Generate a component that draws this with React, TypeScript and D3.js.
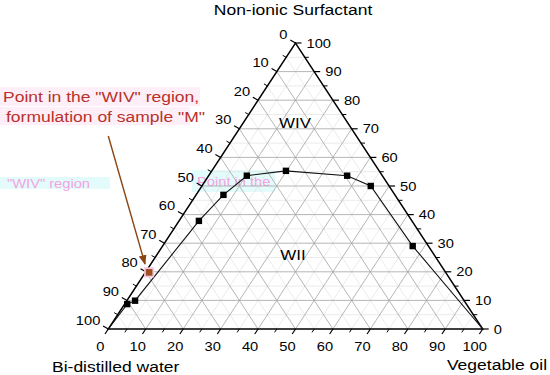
import React from "react";
import * as d3 from "d3";

// Phase boundary points (Vegetable oil %, Non-ionic surfactant %, Bi-distilled water %)
const oil = [0, 0.7, 2.2, 5.3, 7.3, 10.2, 19.8, 37.0, 45.1, 66.8, 100];
const surfactant = [0, 8.7, 9.9, 37.8, 46.9, 53.6, 55.3, 53.6, 50.0, 29.0, 0];
const water = [100, 90.6, 87.9, 56.9, 45.8, 36.2, 24.9, 9.4, 4.9, 4.2, 0];
// which of the boundary points carry a marker
const marked = [false, true, true, true, true, true, true, true, true, true, false];

// Sample "M"
const sampleM = { oil: 1.0, surfactant: 19.8, water: 79.2 };

const ticks = [0, 10, 20, 30, 40, 50, 60, 70, 80, 90, 100];
const minorTicks = [5, 15, 25, 35, 45, 55, 65, 75, 85, 95];
const gridMajor = [10, 20, 30, 40, 50, 60, 70, 80, 90];
const gridMinor = [5, 15, 25, 35, 45, 55, 65, 75, 85, 95];

const FONT = "Liberation Sans, Arial, Helvetica, sans-serif";
const SX = 1.13;

const xS = d3.scaleLinear().domain([0, 100]).range([108.3, 482.7]);
const yS = d3.scaleLinear().domain([0, 100]).range([329, 43]);

// oil along bottom, surfactant vertical
const P = (o: number, s: number): [number, number] => [xS(o + s / 2), yS(s)];

function T(props: any) {
  const { x, y, anchor = "middle", size = 13, fill = "#000", children, opacity } = props;
  return (
    <text
      transform={`translate(${x},${y}) scale(${SX},1)`}
      textAnchor={anchor}
      fontSize={size}
      fontFamily={FONT}
      dy="0.35em"
      fill={fill}
      opacity={opacity}
    >
      {children}
    </text>
  );
}

export default function App() {
  const gridLines = (vals: number[], stroke: string, sw: number) =>
    vals.map((v) => {
      const h1 = P(0, v), h2 = P(100 - v, v);
      const o1 = P(v, 0), o2 = P(v, 100 - v);
      const w1 = P(100 - v, 0), w2 = P(0, 100 - v);
      return (
        <g key={`g${v}`} stroke={stroke} strokeWidth={sw}>
          <line x1={h1[0]} y1={h1[1]} x2={h2[0]} y2={h2[1]} />
          <line x1={o1[0]} y1={o1[1]} x2={o2[0]} y2={o2[1]} />
          <line x1={w1[0]} y1={w1[1]} x2={w2[0]} y2={w2[1]} />
        </g>
      );
    });

  const line = d3.line<number>().x((i) => P(oil[i], surfactant[i])[0]).y((i) => P(oil[i], surfactant[i])[1]);
  const idx = oil.map((_, i) => i);

  const BL = P(0, 0), BR = P(100, 0), AP = P(0, 100);
  const mPos = P(sampleM.oil, sampleM.surfactant);

  const bDir = [-0.55, 0.84];
  const lDir = [-0.87, -0.5];

  return (
    <svg width={550} height={375} style={{ position: "absolute", left: 0, top: 0, background: "#fff" }}>
      <defs>
        <marker id="ah" viewBox="0 0 10 10" refX="9" refY="5" markerWidth="7" markerHeight="7" orient="auto">
          <path d="M0,1 L10,5 L0,9 z" fill="#8b4513" />
        </marker>
      </defs>

      {/* faint artifacts */}
      <rect x={0} y={87} width={200} height={19} fill="#fdeef8" />
      <rect x={0} y={107} width={190} height={18} fill="#fdeef8" />
      <rect x={0} y={177} width={110} height={12} fill="#e4fbfb" />
      <T x={7} y={183} anchor="start" size={13} fill="#f3a2e4">"WIV" region</T>
      <rect x={192} y={170} width={83} height={22} fill="#e4fbfb" />
      <T x={197} y={181} anchor="start" size={13} fill="#f3a2e4">Point in the</T>

      {/* grid */}
      {gridLines(gridMinor, "#dedede", 0.6)}
      {gridLines(gridMajor, "#a3a3a3", 0.8)}

      {/* axes */}
      <path d={`M${BL[0]},${BL[1]}L${BR[0]},${BR[1]}L${AP[0]},${AP[1]}Z`} fill="none" stroke="#000" strokeWidth={1.5} />

      {/* bottom axis: vegetable oil */}
      {ticks.map((v) => {
        const p = P(v, 0);
        return (
          <g key={`b${v}`}>
            <line x1={p[0]} y1={p[1]} x2={p[0] + bDir[0] * 6} y2={p[1] + bDir[1] * 6} stroke="#000" strokeWidth={1.2} />
            <T x={p[0] - 8} y={346}>{v}</T>
          </g>
        );
      })}
      {minorTicks.map((v) => {
        const p = P(v, 0);
        return <line key={`bm${v}`} x1={p[0]} y1={p[1]} x2={p[0] + bDir[0] * 4} y2={p[1] + bDir[1] * 4} stroke="#000" strokeWidth={1} />;
      })}

      {/* left axis: water (0 at top, 100 at bottom) */}
      {ticks.map((w) => {
        const p = P(0, 100 - w);
        return (
          <g key={`l${w}`}>
            <line x1={p[0]} y1={p[1]} x2={p[0] + lDir[0] * 6} y2={p[1] + lDir[1] * 6} stroke="#000" strokeWidth={1.2} />
            <T x={p[0] - 8} y={p[1] - 9} anchor="end">{w}</T>
          </g>
        );
      })}
      {minorTicks.map((w) => {
        const p = P(0, 100 - w);
        return <line key={`lm${w}`} x1={p[0]} y1={p[1]} x2={p[0] + lDir[0] * 4} y2={p[1] + lDir[1] * 4} stroke="#000" strokeWidth={1} />;
      })}

      {/* right axis: surfactant */}
      {ticks.map((s) => {
        const p = P(100 - s, s);
        return (
          <g key={`r${s}`}>
            <line x1={p[0]} y1={p[1]} x2={p[0] + 6} y2={p[1]} stroke="#000" strokeWidth={1.2} />
            <T x={p[0] + 11} y={p[1]} anchor="start">{s}</T>
          </g>
        );
      })}
      {minorTicks.map((s) => {
        const p = P(100 - s, s);
        return <line key={`rm${s}`} x1={p[0]} y1={p[1]} x2={p[0] + 4} y2={p[1]} stroke="#000" strokeWidth={1} />;
      })}

      {/* phase boundary */}
      <path d={line(idx) || ""} fill="none" stroke="#111" strokeWidth={1.1} />
      {idx.filter((i) => marked[i]).map((i) => {
        const p = P(oil[i], surfactant[i]);
        return <rect key={`m${i}`} x={p[0] - 3.2} y={p[1] - 3.2} width={6.4} height={6.4} fill="#000" />;
      })}

      {/* region labels */}
      <T x={295} y={123} size={15}>WIV</T>
      <T x={293} y={255} size={15}>WII</T>

      {/* sample M */}
      <rect x={mPos[0] - 5} y={mPos[1] - 5} width={10} height={10} fill="#f7c6e4" />
      <rect x={mPos[0] - 3.3} y={mPos[1] - 3.3} width={6.6} height={6.6} fill="#a0501e" />
      <line x1={108.3} y1={136} x2={145} y2={264} stroke="#8b4513" strokeWidth={1.4} markerEnd="url(#ah)" />

      {/* annotation */}
      <T x={3} y={97} anchor="start" size={15.5} fill="#b8322a">Point in the "WIV" region,</T>
      <T x={6} y={117} anchor="start" size={15.5} fill="#b8322a">formulation of sample "M"</T>

      {/* titles */}
      <T x={293} y={10} size={15.5}>Non-ionic Surfactant</T>
      <T x={497} y={365} size={15.5}>Vegetable oil</T>
      <T x={52} y={367} anchor="start" size={15.5}>Bi-distilled water</T>
    </svg>
  );
}
